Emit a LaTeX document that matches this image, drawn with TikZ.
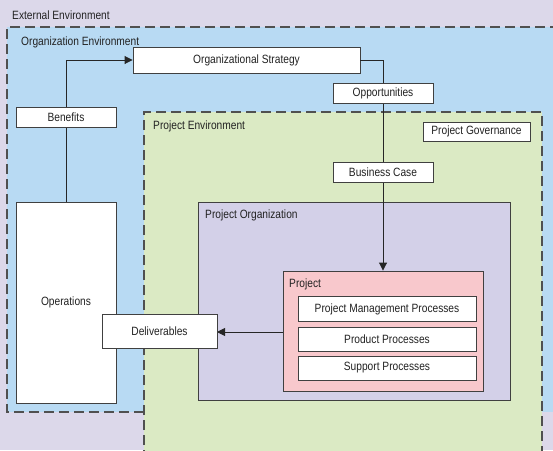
\documentclass[tikz,border=0pt]{standalone}
\usepackage{fontspec}
\setmainfont[FakeStretch=0.85]{Liberation Sans}
\usetikzlibrary{arrows.meta}
\definecolor{extbg}{HTML}{DCD8EA}
\definecolor{orgbg}{HTML}{B8DAF3}
\definecolor{prjbg}{HTML}{DBEAC4}
\definecolor{pobg}{HTML}{D3D0E8}
\definecolor{pjbg}{HTML}{F8C8CC}
\definecolor{edge}{HTML}{404040}
\definecolor{dash}{HTML}{505050}
\definecolor{txt}{HTML}{222222}
\tikzset{
  envbox/.style={draw=dash,line width=1.3pt,dash pattern=on 10pt off 5pt},
  wbox/.style={draw=edge,fill=white,line width=0.9pt,inner sep=0pt,font=\fontsize{12}{13}\selectfont,text=txt},
  lbl/.style={anchor=base west,inner sep=0pt,font=\fontsize{12}{13}\selectfont,text=txt},
  conn/.style={draw=black!85,line width=0.9pt},
  tip/.style={-{Triangle[length=8pt,width=8pt]}}
}
\begin{document}
\begin{tikzpicture}[x=1pt,y=-1pt]
\useasboundingbox (0,0) rectangle (553,450);
\fill[extbg] (0,0) rectangle (553,450);
% environments
\fill[orgbg] (7,27) rectangle (560,412);
\draw[envbox] (560,27) -- (7,27) -- (7,412) -- (144,412);
\fill[prjbg] (144,112) rectangle (542,460);
\draw[envbox] (144,460) -- (144,112) -- (542,112) -- (542,460);
\node[lbl] (ext) at (12,19) {External Environment};
\node[lbl] (orgenv) at (21,45) {Organization Environment};
\node[lbl] (prjenv) at (153,129.5) {Project Environment};
% project organization and project
\node[draw=edge,fill=pobg,line width=0.9pt,minimum width=312pt,minimum height=198pt,inner sep=0pt] (po) at (354,301) {};
\node[lbl] (polbl) at (205,218) {Project Organization};
\node[draw=edge,fill=pjbg,line width=0.9pt,minimum width=200pt,minimum height=120pt,inner sep=0pt] (proj) at (383,331) {};
\node[lbl] (projlbl) at (289,287) {Project};
\node[wbox,minimum width=178pt,minimum height=25pt] (pmp) at (387,309) {Project Management Processes};
\node[wbox,minimum width=178pt,minimum height=24pt] (pp) at (387,339) {Product Processes};
\node[wbox,minimum width=178pt,minimum height=24pt] (sp) at (387,368) {Support Processes};
% organizational strategy, operations
\node[wbox,minimum width=227pt,minimum height=26pt] (os) at (246.5,60) {Organizational Strategy};
\node[wbox,minimum width=100pt,minimum height=201pt] (ops) at (66,302.5) {Operations};
\node[wbox,minimum width=107pt,minimum height=19pt] (pg) at (476.5,131.5) {Project Governance};
% connectors
\draw[conn,tip] (os.east) -| (proj.north);
\draw[conn,tip] (ops.north) |- (os.west);
\draw[conn,tip] (proj.west |- 0,332) -- (217,332);
% boxes on connectors
\node[wbox,minimum width=100pt,minimum height=20pt] (opp) at (383,93) {Opportunities};
\node[wbox,minimum width=100pt,minimum height=20pt] (bc) at (383,172) {Business Case};
\node[wbox,minimum width=100pt,minimum height=20pt] (ben) at (66,117) {Benefits};
\node[wbox,minimum width=115pt,minimum height=34pt] (del) at (159.5,331) {Deliverables};
\end{tikzpicture}
\end{document}
